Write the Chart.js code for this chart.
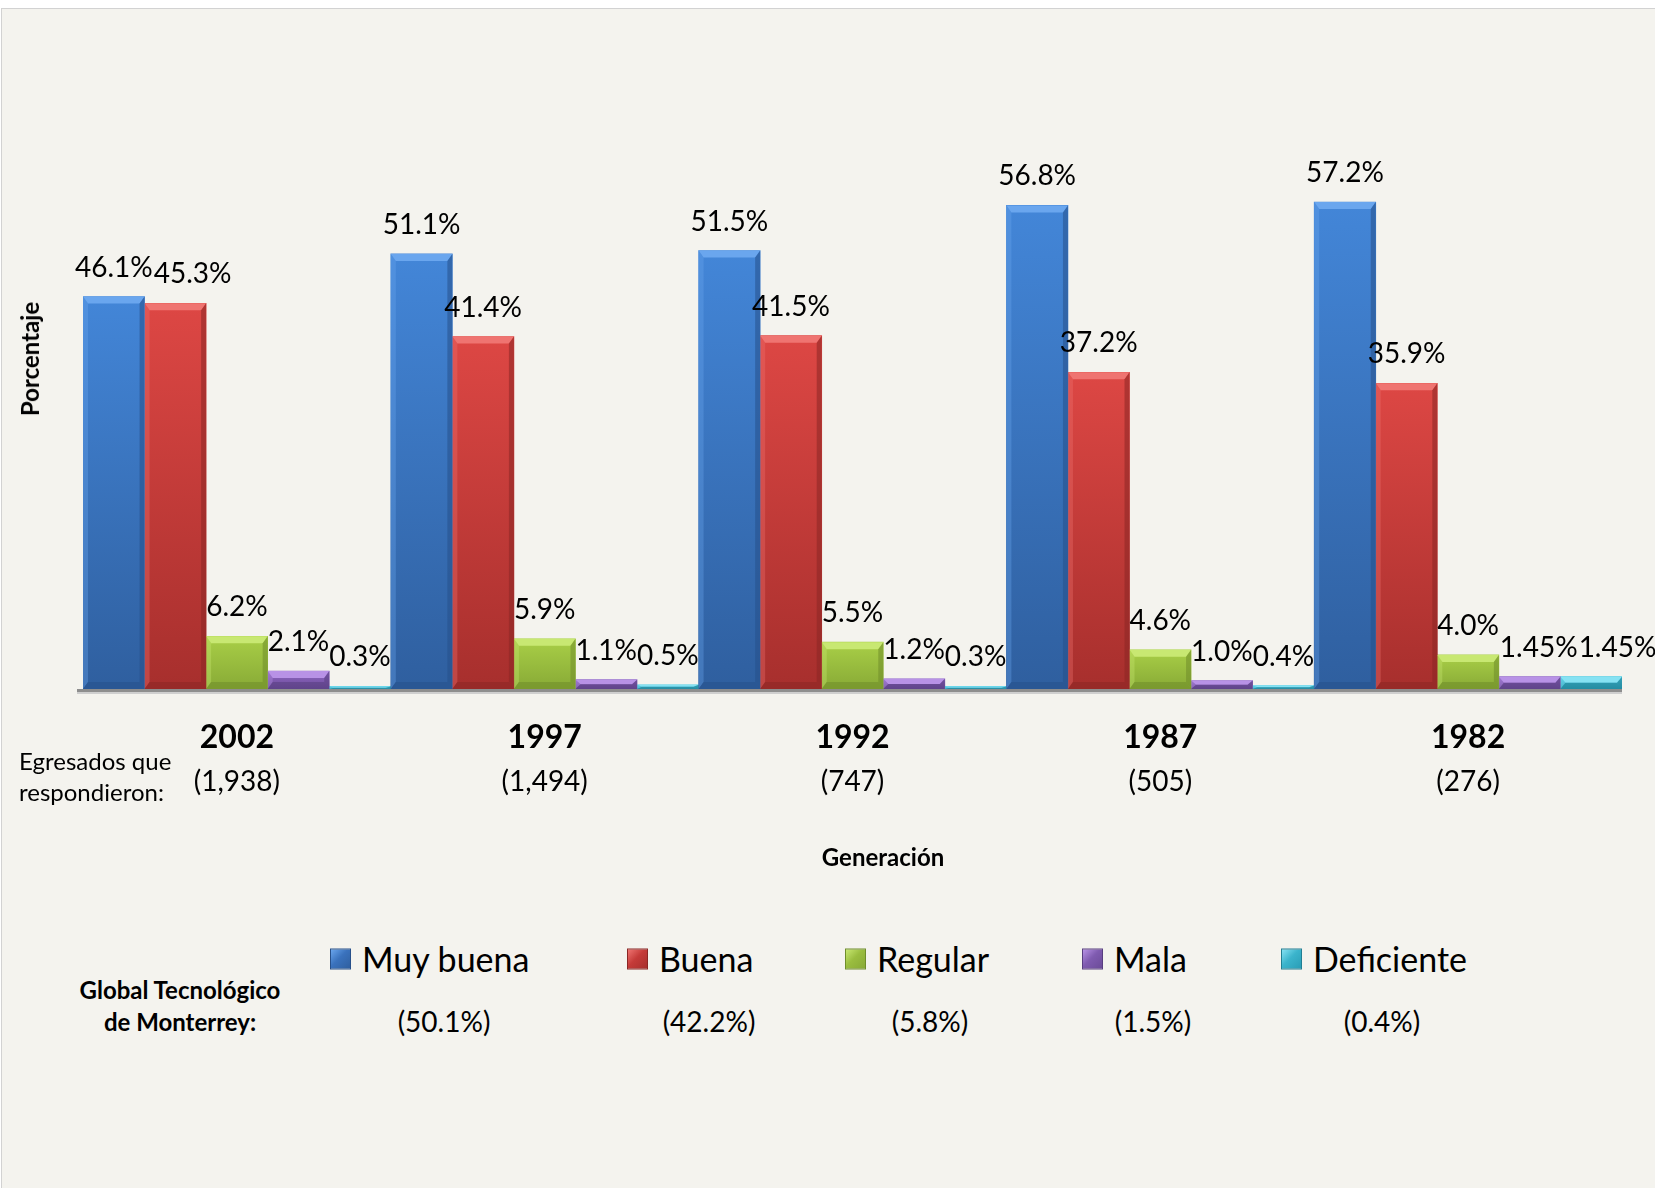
<!DOCTYPE html>
<html>
<head>
<meta charset="utf-8">
<script src="https://cdn.jsdelivr.net/npm/chart.js@4.4.1/dist/chart.umd.min.js"></script>
<style>
html,body{margin:0;padding:0;background:#fff;width:1655px;height:1188px;overflow:hidden;font-family:Lato,'Open Sans',sans-serif;}
#frame{position:absolute;left:1px;top:8px;width:1654px;height:1180px;background:#f4f3ee;border-top:1px solid #d2d2d2;border-left:1px solid #d2d2d2;box-sizing:border-box;}
#chart{position:absolute;left:0;top:0;}
.t{position:absolute;white-space:nowrap;line-height:1;color:#000;font-family:Lato,sans-serif;}
.c{transform:translate(-50%,-50%);}
.l{transform:translateY(-50%);}
.b{font-weight:bold;}
.sq{position:absolute;width:21px;height:21px;box-sizing:border-box;transform:translateY(-50%);}
</style>
</head>
<body>
<div id="frame"></div>
<canvas id="chart" width="1655" height="880"></canvas>
<div id="overlay"></div>
<script>
// ---- data ----
const categories = ['2002', '1997', '1992', '1987', '1982'];
const respondents = ['(1,938)', '(1,494)', '(747)', '(505)', '(276)'];
const seriesNames = ['Muy buena', 'Buena', 'Regular', 'Mala', 'Deficiente'];
const muyBuena   = [46.1, 51.1, 51.5, 56.8, 57.2];
const buena      = [45.3, 41.4, 41.5, 37.2, 35.9];
const regular    = [6.2, 5.9, 5.5, 4.6, 4.0];
const mala       = [2.1, 1.1, 1.2, 1.0, 1.45];
const deficiente = [0.3, 0.5, 0.3, 0.4, 1.45];
const globalPct  = ['(50.1%)', '(42.2%)', '(5.8%)', '(1.5%)', '(0.4%)'];
const yAxisTitle = 'Porcentaje';
const xAxisTitle = 'Generación';
const respondentsNote = ['Egresados que', 'respondieron:'];
const globalNote = ['Global Tecnológico', 'de Monterrey:'];

// ---- styles ----
const barStyles = [
  {top:'#4386d8', bot:'#2f5f9f', mid:'#3a72bd', hi:'#6aa6ee', sh:'#27508a'},
  {top:'#dd4744', bot:'#a72f2d', mid:'#c53b39', hi:'#ef7471', sh:'#8a2624'},
  {top:'#a9cf47', bot:'#88aa36', mid:'#9abd3f', hi:'#c8e872', sh:'#6f8d2a'},
  {top:'#9269c6', bot:'#6b4b98', mid:'#7f5bb0', hi:'#b892e6', sh:'#583e80'},
  {top:'#4fcbe3', bot:'#2a9db6', mid:'#3bb4cc', hi:'#86e2f3', sh:'#217f93'}
];
const seriesData = [muyBuena, buena, regular, mala, deficiente];

function fmt(v){
  return (Math.round(v*100) % 10 !== 0 ? v.toFixed(2) : v.toFixed(1)) + '%';
}

const bevelPlugin = {
  id: 'bevel',
  afterDatasetsDraw(chart){
    const ctx = chart.ctx;
    const area = chart.chartArea;
    ctx.save();
    chart.data.datasets.forEach((ds, i) => {
      const meta = chart.getDatasetMeta(i);
      const st = barStyles[i];
      meta.data.forEach(bar => {
        const p = bar.getProps(['x','y','base','width'], true);
        const l = p.x - p.width/2, r = p.x + p.width/2, t = p.y, b = p.base;
        const h = b - t;
        const bv = Math.min(7, h/2);
        if (h < 0.5) return;
        ctx.fillStyle = st.hi;
        ctx.beginPath();
        ctx.moveTo(l, t); ctx.lineTo(r, t); ctx.lineTo(r - 5, t + bv); ctx.lineTo(l + 5, t + bv); ctx.closePath();
        ctx.fill();
        ctx.globalAlpha = 0.35;
        ctx.beginPath();
        ctx.moveTo(l, t); ctx.lineTo(l + 5, t + bv); ctx.lineTo(l + 5, b - bv); ctx.lineTo(l, b); ctx.closePath();
        ctx.fill();
        ctx.globalAlpha = 0.55;
        ctx.fillStyle = st.sh;
        ctx.beginPath();
        ctx.moveTo(r, t); ctx.lineTo(r - 5, t + bv); ctx.lineTo(r - 5, b - bv); ctx.lineTo(r, b); ctx.closePath();
        ctx.fill();
        ctx.beginPath();
        ctx.moveTo(l, b); ctx.lineTo(l + 5, b - bv); ctx.lineTo(r - 5, b - bv); ctx.lineTo(r, b); ctx.closePath();
        ctx.fill();
        ctx.globalAlpha = 1;
      });
    });
    // floor line
    ctx.fillStyle = '#8e8e8e';
    ctx.fillRect(area.left - 6, area.bottom, area.right - area.left + 6, 3);
    ctx.fillStyle = '#cfcfcf';
    ctx.fillRect(area.left - 6, area.bottom + 3, area.right - area.left + 6, 2);
    // data labels with simple overlap avoidance (shift right)
    ctx.fillStyle = '#000';
    ctx.font = '28px Lato, sans-serif';
    ctx.textAlign = 'center';
    ctx.textBaseline = 'middle';
    const n = chart.data.labels.length;
    for (let j = 0; j < n; j++) {
      let prev = null;
      chart.data.datasets.forEach((ds, i) => {
        const bar = chart.getDatasetMeta(i).data[j];
        const p = bar.getProps(['x','y'], true);
        const txt = fmt(ds.data[j]);
        const w = ctx.measureText(txt).width;
        let x = p.x, y = p.y - 29;
        if (prev && Math.abs(prev.y - y) < 22 && (x - w/2) < prev.r) {
          x = prev.r + w/2 + 1;
        }
        ctx.fillText(txt, x, y);
        prev = {r: x + w/2, y: y};
      });
    }
    ctx.restore();
  }
};

function bg(i){
  const st = barStyles[i];
  return (c) => {
    const ch = c.chart;
    if (!ch.chartArea || c.raw === undefined) return st.mid;
    const y0 = ch.scales.y.getPixelForValue(c.raw);
    const y1 = ch.scales.y.getPixelForValue(0);
    if (y1 - y0 < 2) return st.mid;
    const g = ch.ctx.createLinearGradient(0, y0, 0, y1);
    g.addColorStop(0, st.top);
    g.addColorStop(1, st.bot);
    return g;
  };
}

new Chart(document.getElementById('chart'), {
  type: 'bar',
  data: {
    labels: categories,
    datasets: seriesNames.map((name, i) => ({
      label: name,
      data: seriesData[i],
      backgroundColor: bg(i),
      borderWidth: 0,
      categoryPercentage: 1.0,
      barPercentage: 1.0
    }))
  },
  plugins: [bevelPlugin],
  options: {
    responsive: false,
    animation: false,
    layout: {padding: {left: 83, right: 33, top: 93, bottom: 65}},
    plugins: {legend: {display: false}, tooltip: {enabled: false}},
    scales: {
      y: {display: false, min: 0, max: 70},
      x: {
        position: 'bottom',
        grid: {display: false, drawTicks: false},
        border: {display: false},
        ticks: {color: '#000', font: {family: 'Lato', size: 32, weight: 'bold'}, padding: 29, maxRotation: 0, autoSkip: false},
        afterFit(s){ s.height = 66; }
      },
      x2: {
        type: 'category',
        labels: respondents,
        position: 'bottom',
        offset: true,
        grid: {display: false, drawTicks: false},
        border: {display: false},
        ticks: {color: '#000', font: {family: 'Lato', size: 28}, padding: 10, maxRotation: 0, autoSkip: false},
        afterFit(s){ s.height = 60; }
      }
    }
  }
});

// ---- HTML text overlays ----
const ov = document.getElementById('overlay');
function addText(txt, x, y, size, cls, extra){
  const d = document.createElement('div');
  d.className = 't ' + cls;
  d.textContent = txt;
  d.style.left = x + 'px';
  d.style.top = y + 'px';
  d.style.fontSize = size + 'px';
  if (extra) Object.assign(d.style, extra);
  ov.appendChild(d);
  return d;
}
addText(yAxisTitle, 30, 359, 24, 'b', {transform: 'translate(-50%,-50%) rotate(-90deg)'});
addText(xAxisTitle, 883, 857, 24, 'b c');
addText(respondentsNote[0], 19, 761, 24, 'l');
addText(respondentsNote[1], 19, 792, 24, 'l');
addText(globalNote[0], 180, 990, 24, 'b c');
addText(globalNote[1], 180, 1022, 24, 'b c');

const legendBoxX = [330, 627, 845, 1082, 1281];
const legendPctX = [444, 709, 930, 1153, 1382];
seriesNames.forEach((name, i) => {
  const st = barStyles[i];
  const sq = document.createElement('div');
  sq.className = 'sq';
  sq.style.left = legendBoxX[i] + 'px';
  sq.style.top = '959px';
  sq.style.background = 'linear-gradient(135deg,' + st.hi + ' 0%,' + st.mid + ' 45%,' + st.bot + ' 100%)';
  sq.style.border = '1px solid ' + st.sh;
  ov.appendChild(sq);
  addText(name, legendBoxX[i] + 32, 959, 34, 'l');
  addText(globalPct[i], legendPctX[i], 1021, 28, 'c');
});
</script>
</body>
</html>
